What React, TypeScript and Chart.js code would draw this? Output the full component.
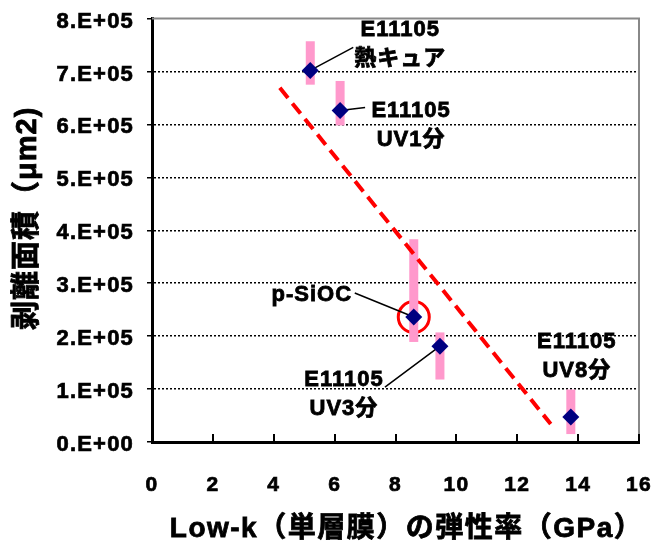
import { useEffect, useRef } from 'react';
import { Chart, registerables } from 'chart.js';

Chart.register(...registerables);

// Samples: Low-k film modulus (GPa) vs. peeled area (μm2)
const sampleLabels: string[][] = [
  ['E11105', '熱キュア'],
  ['E11105', 'UV1分'],
  ['p-SiOC'],
  ['E11105', 'UV3分'],
  ['E11105', 'UV8分'],
];
const modulusGPa = [5.2, 6.18, 8.6, 9.46, 13.76];
const peelArea = [7.02e5, 6.26e5, 2.36e5, 1.81e5, 0.47e5];
const peelAreaLow = [6.75e5, 5.98e5, 1.89e5, 1.18e5, 0.15e5];
const peelAreaHigh = [7.57e5, 6.82e5, 3.83e5, 2.07e5, 0.99e5];

// Dashed trend line end points
const trendX = [4.2, 13.1];
const trendY = [6.69e5, 0.34e5];

// Sample circled in red
const highlightIndex = 2;

const xTickValues = [0, 2, 4, 6, 8, 10, 12, 14, 16];
const yTickLabels = ['0.E+00', '1.E+05', '2.E+05', '3.E+05', '4.E+05', '5.E+05', '6.E+05', '7.E+05', '8.E+05'];

const xAxisTitle = 'Low-k（単層膜）の弾性率（GPa）';
const yAxisTitle = '剥離面積（μm2)';

// Label placement, in pixels relative to each point: text centre (dx, dy) and leader end (lx, ly)
const labelLayout = [
  { dx: 90, dy: -26, lx: 43, ly: -23 },
  { dx: 71, dy: 15, lx: 25, ly: -3 },
  { dx: -102, dy: -22, lx: -59, ly: -24 },
  { dx: -96, dy: 48, lx: -55, ly: 41 },
  { dx: 6, dy: -61, lx: null, ly: null },
];

const FAMILY = "'Liberation Sans', 'Noto Sans CJK JP', Arial, sans-serif";

const spacingPlugin = {
  id: 'spacing',
  beforeDraw(chart: any) {
    (chart.ctx as any).letterSpacing = '1.2px';
  },
  afterDraw(chart: any) {
    (chart.ctx as any).letterSpacing = '0px';
  },
};

const framePlugin = {
  id: 'frame',
  beforeDatasetsDraw(chart: any) {
    const { ctx, chartArea, scales } = chart;
    const { left, right, top, bottom } = chartArea;
    ctx.save();
    ctx.strokeStyle = '#888888';
    ctx.lineWidth = 2;
    ctx.beginPath();
    ctx.moveTo(left, top);
    ctx.lineTo(right, top);
    ctx.lineTo(right, bottom);
    ctx.stroke();
    // inward tick marks on the x axis
    ctx.strokeStyle = '#000000';
    ctx.lineWidth = 2;
    ctx.beginPath();
    xTickValues.forEach((v) => {
      if (v === 0) return;
      const px = Math.round(scales.x.getPixelForValue(v));
      ctx.moveTo(px, bottom);
      ctx.lineTo(px, bottom - 8);
    });
    ctx.stroke();

    // axis titles
    ctx.fillStyle = '#000000';
    ctx.strokeStyle = '#000000';
    ctx.lineWidth = 0.8;
    ctx.textAlign = 'center';
    ctx.textBaseline = 'middle';
    ctx.font = `bold 28px ${FAMILY}`;
    (ctx as any).letterSpacing = '1.5px';
    const xc = (left + right) / 2 + 11;
    ctx.strokeText(xAxisTitle, xc, 529);
    ctx.fillText(xAxisTitle, xc, 529);

    ctx.save();
    ctx.translate(28, (top + bottom) / 2 - 12);
    ctx.rotate(-Math.PI / 2);
    ctx.font = `bold 29px ${FAMILY}`;
    (ctx as any).letterSpacing = '1px';
    ctx.strokeText(yAxisTitle, 0, 0);
    ctx.fillText(yAxisTitle, 0, 0);
    ctx.restore();

    ctx.restore();
  },
};

const annotatePlugin = {
  id: 'annotate',
  afterDatasetDraw(chart: any, args: any) {
    if (args.index !== 2) return;
    const { ctx, scales } = chart;
    const { x, y } = scales;
    ctx.save();
    // range bars
    ctx.fillStyle = '#ff99cc';
    modulusGPa.forEach((m, i) => {
      const px = x.getPixelForValue(m);
      const top = y.getPixelForValue(peelAreaHigh[i]);
      const bot = y.getPixelForValue(peelAreaLow[i]);
      ctx.fillRect(px - 4.5, top, 9, bot - top);
    });
    // leader lines
    ctx.strokeStyle = '#000000';
    ctx.lineWidth = 1.5;
    ctx.beginPath();
    modulusGPa.forEach((m, i) => {
      const lay = labelLayout[i];
      if (lay.lx === null || lay.ly === null) return;
      const px = x.getPixelForValue(m);
      const py = y.getPixelForValue(peelArea[i]);
      ctx.moveTo(px, py);
      ctx.lineTo(px + lay.lx, py + lay.ly);
    });
    ctx.stroke();
    ctx.restore();
  },
  afterDatasetsDraw(chart: any) {
    const { ctx, scales } = chart;
    const { x, y } = scales;
    ctx.save();
    ctx.font = `bold 22px ${FAMILY}`;
    ctx.fillStyle = '#000000';
    ctx.strokeStyle = '#000000';
    ctx.lineWidth = 0.8;
    ctx.textAlign = 'center';
    ctx.textBaseline = 'middle';
    (ctx as any).letterSpacing = '1px';
    sampleLabels.forEach((lines, i) => {
      const lay = labelLayout[i];
      const cx = x.getPixelForValue(modulusGPa[i]) + lay.dx;
      const cy = y.getPixelForValue(peelArea[i]) + lay.dy;
      const n = lines.length;
      lines.forEach((t, k) => {
        const ty = cy + (k - (n - 1) / 2) * 29;
        ctx.strokeText(t, cx, ty);
        ctx.fillText(t, cx, ty);
      });
    });
    ctx.restore();
  },
};

export default function App() {
  const ref = useRef<HTMLCanvasElement>(null);

  useEffect(() => {
    document.body.style.margin = '0';
    const canvas = ref.current;
    if (!canvas) return;

    const points = modulusGPa.map((m, i) => ({ x: m, y: peelArea[i] }));
    const trend = trendX.map((v, i) => ({ x: v, y: trendY[i] }));

    const chart = new Chart(canvas, {
      type: 'scatter',
      data: {
        datasets: [
          {
            label: 'samples',
            data: points,
            pointStyle: 'rectRot',
            pointRadius: 8.5,
            pointBackgroundColor: '#000080',
            pointBorderColor: '#000080',
            pointBorderWidth: 0,
          },
          {
            label: 'trend',
            data: trend,
            showLine: true,
            borderColor: '#ff0000',
            borderWidth: 4,
            borderDash: [13, 7],
            pointRadius: 0,
          },
          {
            label: 'highlight',
            data: [points[highlightIndex]],
            pointStyle: 'circle',
            pointRadius: 15.5,
            pointBorderWidth: 3,
            pointBorderColor: '#ff0000',
            pointBackgroundColor: 'rgba(0,0,0,0)',
          },
        ],
      },
      options: {
        animation: false,
        responsive: true,
        maintainAspectRatio: false,
        layout: { padding: { left: 0, right: 27, top: 14, bottom: 0 } },
        plugins: {
          legend: { display: false },
          tooltip: { enabled: false },
        },
        scales: {
          x: {
            type: 'linear',
            min: 0,
            max: 16,
            afterFit: (s: any) => {
              s.height = 103;
              s.paddingLeft = 0;
              s.paddingRight = 0;
            },
            ticks: {
              stepSize: 2,
              autoSkip: false,
              padding: 31,
              color: '#000',
              textStrokeColor: '#000',
              textStrokeWidth: 0.7,
              font: { family: FAMILY, size: 21, weight: 'bold' },
            },
            grid: { display: false, drawTicks: false },
            border: { display: true, color: '#000', width: 3 },
            title: { display: false },
          },
          y: {
            type: 'linear',
            min: 0,
            max: 8e5,
            afterFit: (s: any) => {
              s.width = 152;
              s.paddingTop = 0;
              s.paddingBottom = 0;
            },
            ticks: {
              stepSize: 1e5,
              autoSkip: false,
              padding: 13,
              labelOffset: 3,
              color: '#000',
              textStrokeColor: '#000',
              textStrokeWidth: 0.7,
              font: { family: FAMILY, size: 22, weight: 'bold' },
              callback: (v: any) => yTickLabels[Math.round(Number(v) / 1e5)],
            },
            grid: {
              drawTicks: true,
              tickLength: 5,
              tickColor: '#000',
              tickWidth: 1.5,
              lineWidth: 1.5,
              color: (c: any) =>
                c.tick && (c.tick.value === 0 || c.tick.value === 8e5) ? 'rgba(0,0,0,0)' : '#000',
            },
            border: { display: true, color: '#000', width: 3, dash: [2, 2] },
            title: { display: false },
          },
        },
      },
      plugins: [spacingPlugin, framePlugin, annotatePlugin],
    } as any);

    return () => chart.destroy();
  }, []);

  return (
    <div style={{ width: 666, height: 545, position: 'relative' }}>
      <canvas ref={ref} />
    </div>
  );
}
